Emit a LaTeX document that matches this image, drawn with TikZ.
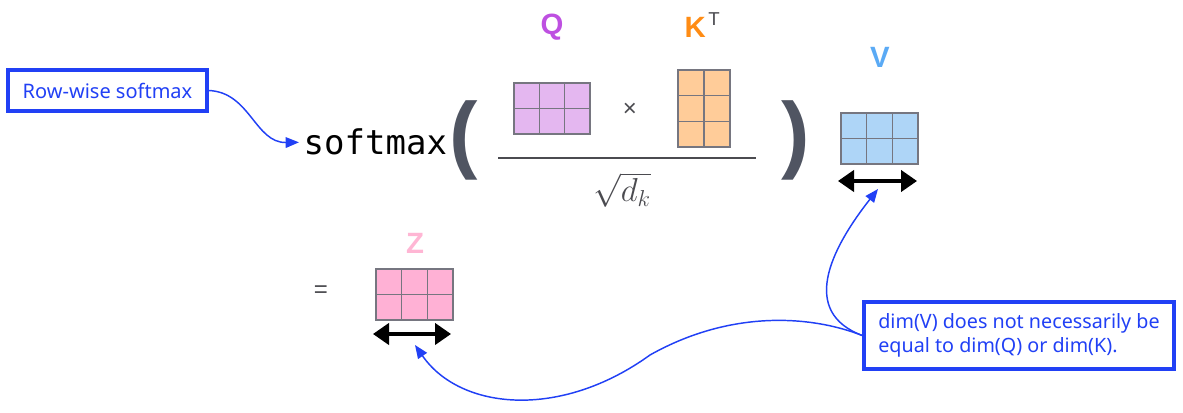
\documentclass[tikz,border=0pt]{standalone}
\usepackage{amsmath, amssymb}
\usepackage{fontspec}
\usepackage{tikz}
\usetikzlibrary{arrows.meta, calc}
\setmainfont{Noto Sans}
\newfontfamily\labfont{Liberation Sans}
\newfontfamily\codefont{DejaVu Sans Mono}
\definecolor{noteBlue}{RGB}{33, 64, 245}
\definecolor{qPurple}{RGB}{190, 80, 225}
\definecolor{qFill}{RGB}{228, 183, 240}
\definecolor{kOrange}{RGB}{255, 140, 20}
\definecolor{kFill}{RGB}{255, 204, 153}
\definecolor{vBlue}{RGB}{90, 170, 245}
\definecolor{vFill}{RGB}{174, 213, 247}
\definecolor{zPink}{RGB}{255, 182, 212}
\definecolor{zFill}{RGB}{255, 177, 213}
\definecolor{matLine}{RGB}{118, 118, 128}
\definecolor{parenGrey}{RGB}{80, 85, 98}
\definecolor{mathGrey}{RGB}{75, 75, 80}

\begin{document}
\begin{tikzpicture}[x=0.75pt, y=-0.75pt,
    matbox/.style={draw=matLine, line width=1pt, inner sep=0pt},
    cellline/.style={draw=matLine, line width=0.9pt},
    dimarrow/.style={line width=2.4pt, {Triangle[length=12pt,width=16pt]}-{Triangle[length=12pt,width=16pt]}},
    notearrow/.style={noteBlue, line width=1.1pt, -{Triangle[length=10pt,width=8pt]}},
    notebox/.style={draw=noteBlue, line width=2.6pt, text=noteBlue, inner sep=0pt},
    lab/.style={font=\labfont\bfseries\fontsize{22}{22}\selectfont}]
        \useasboundingbox (0,0) rectangle (1183,413);
        % Formula
        \node[anchor=base west, font=\codefont\fontsize{25.5}{25.5}\selectfont] (softmax) at (299,155) {softmax};
        \node[parenGrey, inner sep=0pt, font=\labfont\bfseries\fontsize{64}{64}\selectfont] (lparen) at (464,140) {(};
        \node[parenGrey, inner sep=0pt, font=\labfont\bfseries\fontsize{64}{64}\selectfont] (rparen) at (796,140) {)};
        \node[matbox, fill=qFill, minimum width=57pt, minimum height=38.25pt] (qmat) at (552,108.5) {};
        \node[matbox, fill=kFill, minimum width=39pt, minimum height=57.75pt] (kmat) at (704,108.5) {};
        \node[mathGrey, font=\labfont\fontsize{18}{18}\selectfont] (times) at (630,110) {×};
        \draw[mathGrey, line width=1.2pt] (498,158) -- (756,158);
        \node[mathGrey, font=\fontsize{23}{27}\selectfont] (sqrtdk) at (622,190) {$\sqrt{d_k}$};
        \node[matbox, fill=vFill, minimum width=57.75pt, minimum height=38.25pt] (vmat) at (879.5,138.5) {};
        \node[mathGrey, font=\labfont\fontsize{18}{18}\selectfont] (equals) at (321,292) {=};
        \node[matbox, fill=zFill, minimum width=57.75pt, minimum height=38.25pt] (zmat) at (414.5,294.5) {};
        % Cells
        \foreach \nm/\nc/\nr in {qmat/3/2, kmat/2/3, vmat/3/2, zmat/3/2} {
            \pgfmathtruncatemacro\lastc{\nc-1}
            \pgfmathtruncatemacro\lastr{\nr-1}
            \foreach \i in {1,...,\lastc}
                \draw[cellline] ($(\nm.north west)!\i/\nc!(\nm.north east)$) -- ($(\nm.south west)!\i/\nc!(\nm.south east)$);
            \foreach \j in {1,...,\lastr}
                \draw[cellline] ($(\nm.north west)!\j/\nr!(\nm.south west)$) -- ($(\nm.north east)!\j/\nr!(\nm.south east)$);
        }
        % Labels
        \node[lab, qPurple] (qlab) at (552,27) {Q};
        \node[lab, kOrange, anchor=east, inner sep=0pt] (klab) at (706,27) {K};
        \node[mathGrey, anchor=west, inner sep=0pt, font=\labfont\fontsize{14}{14}\selectfont] (tlab) at (708,19) {T};
        \node[lab, vBlue] (vlab) at (880,57) {V};
        \node[lab, zPink] (zlab) at (415,243) {Z};
        % Dimension arrows
        \coordinate (vdimL) at (838,181);
        \coordinate (vdimR) at (917,181);
        \coordinate (zdimL) at (373,334);
        \coordinate (zdimR) at (451,334);
        \draw[dimarrow] (vdimL) -- (vdimR);
        \draw[dimarrow] (zdimL) -- (zdimR);
        \coordinate (vdim) at (878,189);
        \coordinate (zdim) at (415,345);
        % Notes
        \node[notebox, minimum width=149pt, minimum height=30.75pt, font=\fontsize{15}{15}\selectfont] (rowbox) at (107.5,90.5) {Row-wise softmax};
        \node[notebox, minimum width=232.5pt, minimum height=50.25pt, align=left, font=\fontsize{14.8}{17.5}\selectfont] (note) at (1019,335.5) {dim(V) does not necessarily be\\equal to dim(Q) or dim(K).};
        \draw[notearrow] (rowbox.east) .. controls (250,92) and (255,143) .. (softmax.west);
        \draw[notearrow] (note.west) .. controls (800,312) and (830,250) .. (vdim);
        \draw[notearrow] (note.west) .. controls (810,315) and (730,310) .. (650,355) .. controls (560,420) and (460,410) .. (zdim);
      \end{tikzpicture}
\end{document}
